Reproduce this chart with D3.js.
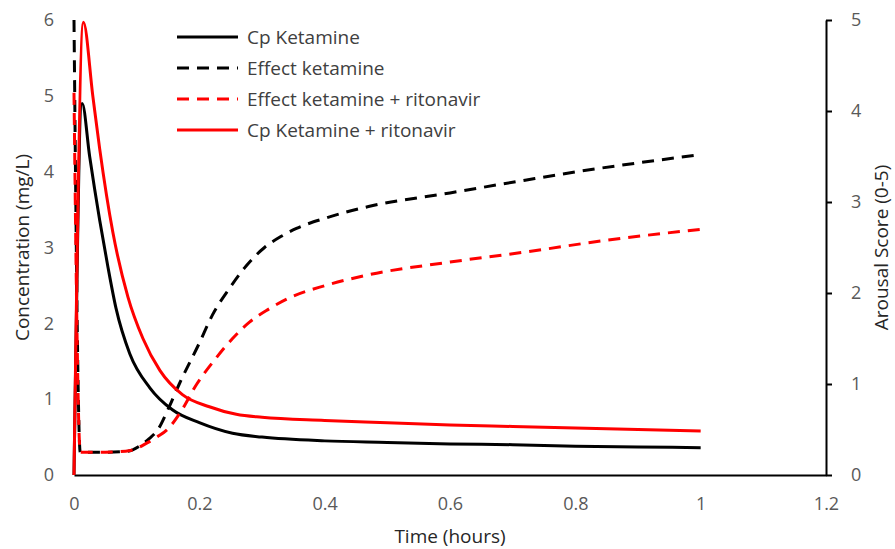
<!DOCTYPE html>
<html>
<head>
<meta charset="utf-8">
<script src="https://cdn.jsdelivr.net/npm/d3@7"></script>
<style>
  body { margin: 0; background: #fff; }
  text { font-family: "Open Sans", sans-serif; }
</style>
</head>
<body>
<div id="chart"></div>
<script>
// Cp Ketamine (mg/L, left axis)
const cpTime = [0, 0.013, 0.025, 0.041, 0.054, 0.067, 0.089, 0.121, 0.157, 0.2, 0.253, 0.3, 0.4, 0.5, 0.6, 0.7, 0.8, 0.9, 1.0];
const cpKetamine = [0, 4.9, 4.2, 3.36, 2.75, 2.2, 1.6, 1.15, 0.86, 0.69, 0.55, 0.5, 0.45, 0.43, 0.41, 0.4, 0.38, 0.37, 0.36];

// Cp Ketamine + ritonavir (mg/L, left axis)
const cpRitTime = [0, 0.015, 0.03, 0.041, 0.062, 0.086, 0.11, 0.137, 0.173, 0.216, 0.259, 0.3, 0.4, 0.5, 0.6, 0.7, 0.8, 0.9, 1.0];
const cpKetamineRit = [0, 5.97, 5.0, 4.3, 3.2, 2.35, 1.8, 1.38, 1.06, 0.9, 0.8, 0.76, 0.72, 0.69, 0.66, 0.64, 0.62, 0.6, 0.58];

// Effect ketamine (arousal score, right axis)
const effTime = [0, 0.01, 0.05, 0.085, 0.105, 0.12, 0.134, 0.15, 0.168, 0.2, 0.221, 0.248, 0.275, 0.304, 0.33, 0.355, 0.4, 0.47, 0.6, 0.72, 0.8, 0.9, 1.0];
const effKetamine = [5, 0.25, 0.25, 0.26, 0.32, 0.4, 0.5, 0.72, 1.0, 1.45, 1.76, 2.05, 2.3, 2.5, 2.62, 2.71, 2.82, 2.95, 3.1, 3.24, 3.33, 3.43, 3.52];

// Effect ketamine + ritonavir (arousal score, right axis)
const effRitTime = [0, 0.01, 0.05, 0.09, 0.116, 0.133, 0.149, 0.169, 0.196, 0.225, 0.253, 0.28, 0.31, 0.348, 0.4, 0.47, 0.6, 0.72, 0.85, 1.0];
const effKetamineRit = [4.2, 0.25, 0.25, 0.27, 0.35, 0.42, 0.5, 0.68, 1.0, 1.27, 1.5, 1.68, 1.82, 1.96, 2.08, 2.2, 2.34, 2.45, 2.58, 2.7];

const xTicks = [0, 0.2, 0.4, 0.6, 0.8, 1, 1.2];
const yLeftTicks = [0, 1, 2, 3, 4, 5, 6];
const yRightTicks = [0, 1, 2, 3, 4, 5];

const series = [
  { name: "Cp Ketamine", t: cpTime, v: cpKetamine, axis: "left", colour: "#000", dash: null },
  { name: "Effect ketamine", t: effTime, v: effKetamine, axis: "right", colour: "#000", dash: "12,8" },
  { name: "Effect ketamine + ritonavir", t: effRitTime, v: effKetamineRit, axis: "right", colour: "#ff0000", dash: "12,8" },
  { name: "Cp Ketamine + ritonavir", t: cpRitTime, v: cpKetamineRit, axis: "left", colour: "#ff0000", dash: null }
];

const w = 895;
const h = 549;
const margin = { top: 20, right: 69, bottom: 74, left: 74 };
const fmt = d3.format("~g");

const svg = d3.select("#chart").append("svg").attr("width", w).attr("height", h);

const xScale = d3.scaleLinear().domain([0, 1.2]).range([margin.left, w - margin.right]);
const yLeft = d3.scaleLinear().domain([0, 6]).range([h - margin.bottom, margin.top]);
const yRight = d3.scaleLinear().domain([0, 5]).range([h - margin.bottom, margin.top]);

// x axis
const xAxis = svg
  .append("g")
  .attr("transform", `translate(0,${h - margin.bottom})`)
  .call(d3.axisBottom(xScale).tickValues(xTicks).tickSize(0).tickPadding(22).tickFormat(fmt));
xAxis.select(".domain").attr("stroke", "#000").attr("stroke-width", 2);
xAxis.selectAll("text").attr("fill", "#595959").style("font-size", "18px");

// left axis (labels only)
const yAxisL = svg
  .append("g")
  .attr("transform", `translate(${margin.left},0)`)
  .call(d3.axisLeft(yLeft).tickValues(yLeftTicks).tickSize(0).tickPadding(20).tickFormat(fmt));
yAxisL.select(".domain").remove();
yAxisL.selectAll("text").attr("fill", "#595959").style("font-size", "18px");

// right axis
const yAxisR = svg
  .append("g")
  .attr("transform", `translate(${w - margin.right},0)`)
  .call(d3.axisRight(yRight).tickValues(yRightTicks).tickSize(6).tickSizeOuter(0).tickPadding(19).tickFormat(fmt));
yAxisR.select(".domain").attr("stroke", "#000").attr("stroke-width", 2);
yAxisR.selectAll(".tick line").attr("stroke", "#000").attr("stroke-width", 2);
yAxisR.selectAll("text").attr("fill", "#595959").style("font-size", "18px");

// lines
series.forEach((s) => {
  const y = s.axis === "left" ? yLeft : yRight;
  const line = d3
    .line()
    .x((d, i) => xScale(s.t[i]))
    .y((d) => y(d))
    .curve(d3.curveMonotoneX);
  svg
    .append("path")
    .datum(s.v)
    .attr("d", line)
    .attr("fill", "none")
    .attr("stroke", s.colour)
    .attr("stroke-width", 3)
    .attr("stroke-dasharray", s.dash);
});

// axis titles
svg
  .append("text")
  .attr("x", (margin.left + w - margin.right) / 2)
  .attr("y", 543)
  .attr("text-anchor", "middle")
  .attr("fill", "#262626")
  .style("font-size", "19px")
  .text("Time (hours)");

svg
  .append("text")
  .attr("transform", `translate(22,${(margin.top + h - margin.bottom) / 2}) rotate(-90)`)
  .attr("text-anchor", "middle")
  .attr("dominant-baseline", "central")
  .attr("fill", "#262626")
  .style("font-size", "19px")
  .text("Concentration (mg/L)");

svg
  .append("text")
  .attr("transform", `translate(881,${(margin.top + h - margin.bottom) / 2}) rotate(-90)`)
  .attr("text-anchor", "middle")
  .attr("dominant-baseline", "central")
  .attr("fill", "#262626")
  .style("font-size", "19px")
  .text("Arousal Score (0-5)");

// legend
const legend = svg.append("g").attr("transform", "translate(177,37)");
series.forEach((s, i) => {
  const g = legend.append("g").attr("transform", `translate(0,${i * 31})`);
  g.append("line")
    .attr("x1", 0)
    .attr("x2", 61)
    .attr("stroke", s.colour)
    .attr("stroke-width", 3)
    .attr("stroke-dasharray", s.dash);
  g.append("text")
    .attr("x", 70)
    .attr("dominant-baseline", "central")
    .attr("fill", "#404040")
    .style("font-size", "19px")
    .text(s.name);
});
</script>
</body>
</html>
